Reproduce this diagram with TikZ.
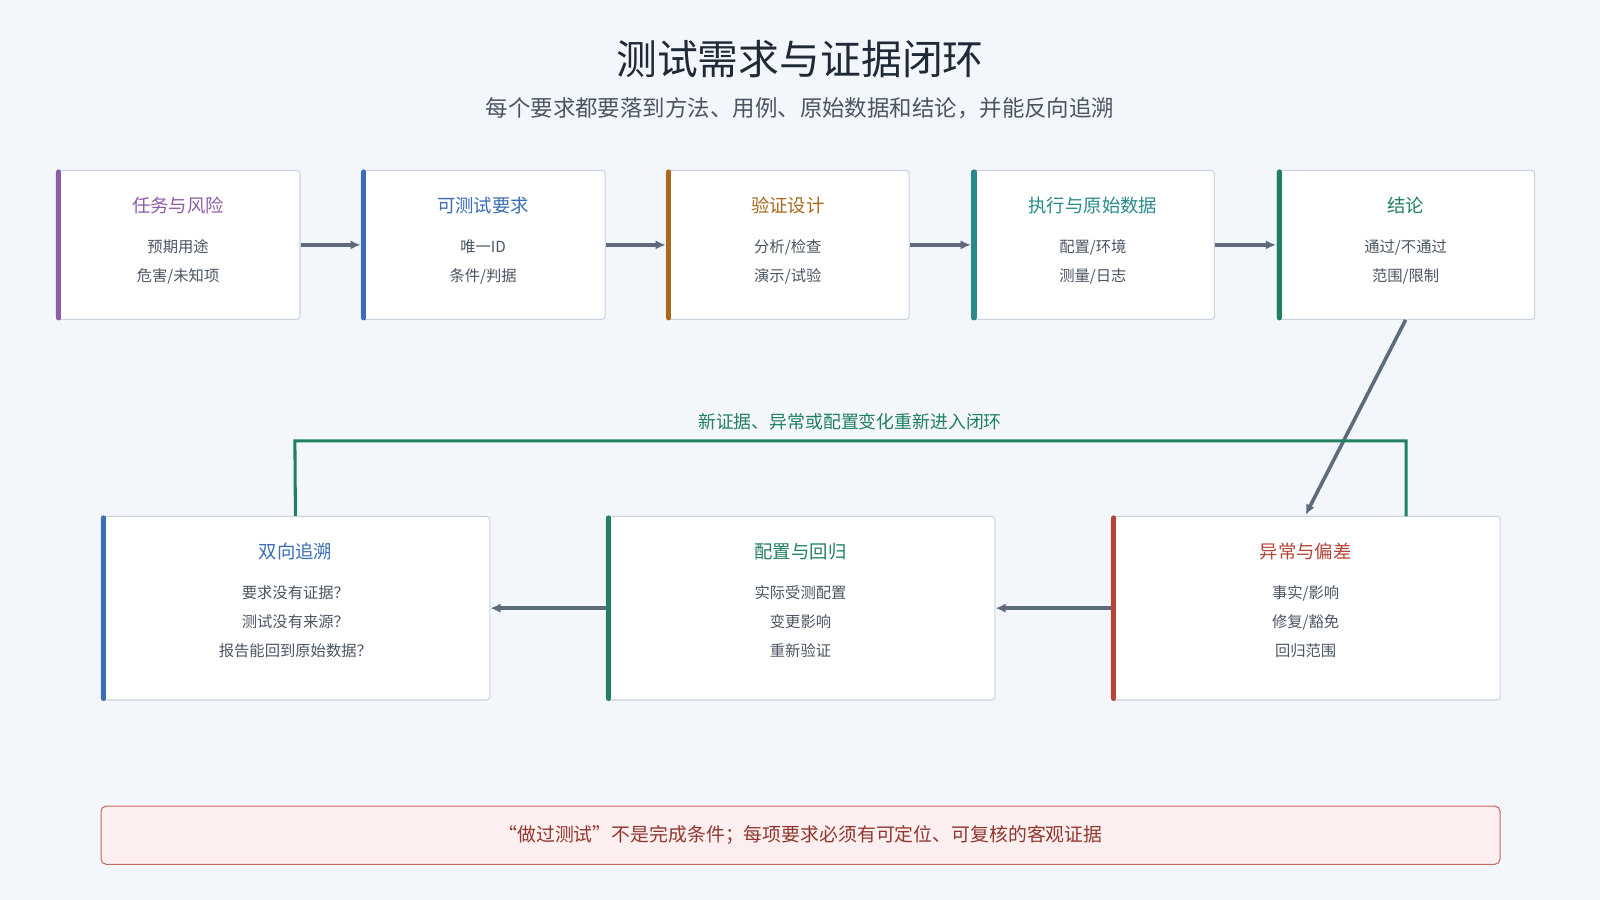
\documentclass[tikz,border=0pt]{standalone}
\usepackage{fontspec}
\setmainfont{Noto Sans CJK SC}
\usetikzlibrary{arrows.meta,positioning,calc}
\definecolor{bg}{HTML}{F3F6FA}
\definecolor{edge}{HTML}{C9D2DE}
\definecolor{ink}{HTML}{1F2937}
\definecolor{sub}{HTML}{4B5563}
\definecolor{flow}{HTML}{5F6B7D}
\definecolor{cpurple}{HTML}{8E5BA8}
\definecolor{cblue}{HTML}{3A6DB5}
\definecolor{cbrown}{HTML}{A8691C}
\definecolor{cteal}{HTML}{2A8A8A}
\definecolor{cgreen}{HTML}{228060}
\definecolor{cred}{HTML}{B5443A}
\definecolor{notefill}{HTML}{FDEFEF}

% one stage box: name, west x, north y, width, height, colour, title, lines
\newcommand{\stagebox}[8]{
  \node[box, minimum width=#4, minimum height=#5] (#1) at (#2+#4/2, #3+#5/2) {};
  \draw[#6, line width=5pt, line cap=round] ($(#1.north west)+(3,2)$) -- ($(#1.south west)+(3,-2)$);
  \node[head, text=#6] (#1-head) at ($(#1.north)+(0,35)$) {#7};
  \node[body, anchor=north] (#1-body) at ($(#1-head.center)+(0,33)$) {#8};
}

\begin{document}
\begin{tikzpicture}[x=1pt, y=-1pt,
    box/.style={rectangle, draw=edge, fill=white, rounded corners=3pt, line width=1pt},
    head/.style={font=\fontsize{18}{21}\selectfont},
    body/.style={font=\fontsize{15}{28.5}\selectfont, text=sub, align=center, inner sep=0pt},
    arrow/.style={-{Latex[length=10pt,width=9pt]}, line width=3.5pt, draw=flow}
]
\fill[bg] (0,0) rectangle (1568,882);
\useasboundingbox (0,0) rectangle (1568,882);

\node[font=\fontsize{40}{44}\selectfont, text=ink] (title) at (784,58) {测试需求与证据闭环};
\node[font=\fontsize{22}{26}\selectfont, text=sub] (subtitle) at (784,106) {每个要求都要落到方法、用例、原始数据和结论，并能反向追溯};

% top row
\stagebox{risk}{55}{167}{239}{146}{cpurple}{任务与风险}{预期用途\\危害/未知项}
\stagebox{req}{354}{167}{239}{146}{cblue}{可测试要求}{唯一ID\\条件/判据}
\stagebox{design}{653}{167}{238}{146}{cbrown}{验证设计}{分析/检查\\演示/试验}
\stagebox{exec}{952}{167}{238}{146}{cteal}{执行与原始数据}{配置/环境\\测量/日志}
\stagebox{concl}{1251}{167}{253}{146}{cgreen}{结论}{通过/不通过\\范围/限制}

% bottom row
\stagebox{trace}{99}{506}{381}{180}{cblue}{双向追溯}{要求没有证据？\\测试没有来源？\\报告能回到原始数据？}
\stagebox{config}{594}{506}{381}{180}{cgreen}{配置与回归}{实际受测配置\\变更影响\\重新验证}
\stagebox{anom}{1089}{506}{381}{180}{cred}{异常与偏差}{事实/影响\\修复/豁免\\回归范围}

\draw[arrow] (risk) -- (req);
\draw[arrow] (req) -- (design);
\draw[arrow] (design) -- (exec);
\draw[arrow] (exec) -- (concl);
\draw[arrow] (concl.south) -- ($(anom.north)+(0,-1)$);
\draw[arrow] (anom) -- (config);
\draw[arrow] (config) -- (trace);

\coordinate (loopR) at (1378,432);
\coordinate (loopL) at (289,432);
\draw[cgreen, line width=3pt] (1378,506) -- (loopR) -- (loopL) -- (trace.north);
\node[font=\fontsize{17.5}{20}\selectfont, text=cgreen] (looplabel) at (833,413) {新证据、异常或配置变化重新进入闭环};

\node[draw=cred!80, fill=notefill, rounded corners=5pt, line width=1pt, minimum width=1371, minimum height=57,
  font=\fontsize{18.5}{20}\selectfont, text=cred!80!black] (note) at (784.5,818.5)
  {“做过测试”不是完成条件；每项要求必须有可定位、可复核的客观证据};
\end{tikzpicture}
\end{document}
